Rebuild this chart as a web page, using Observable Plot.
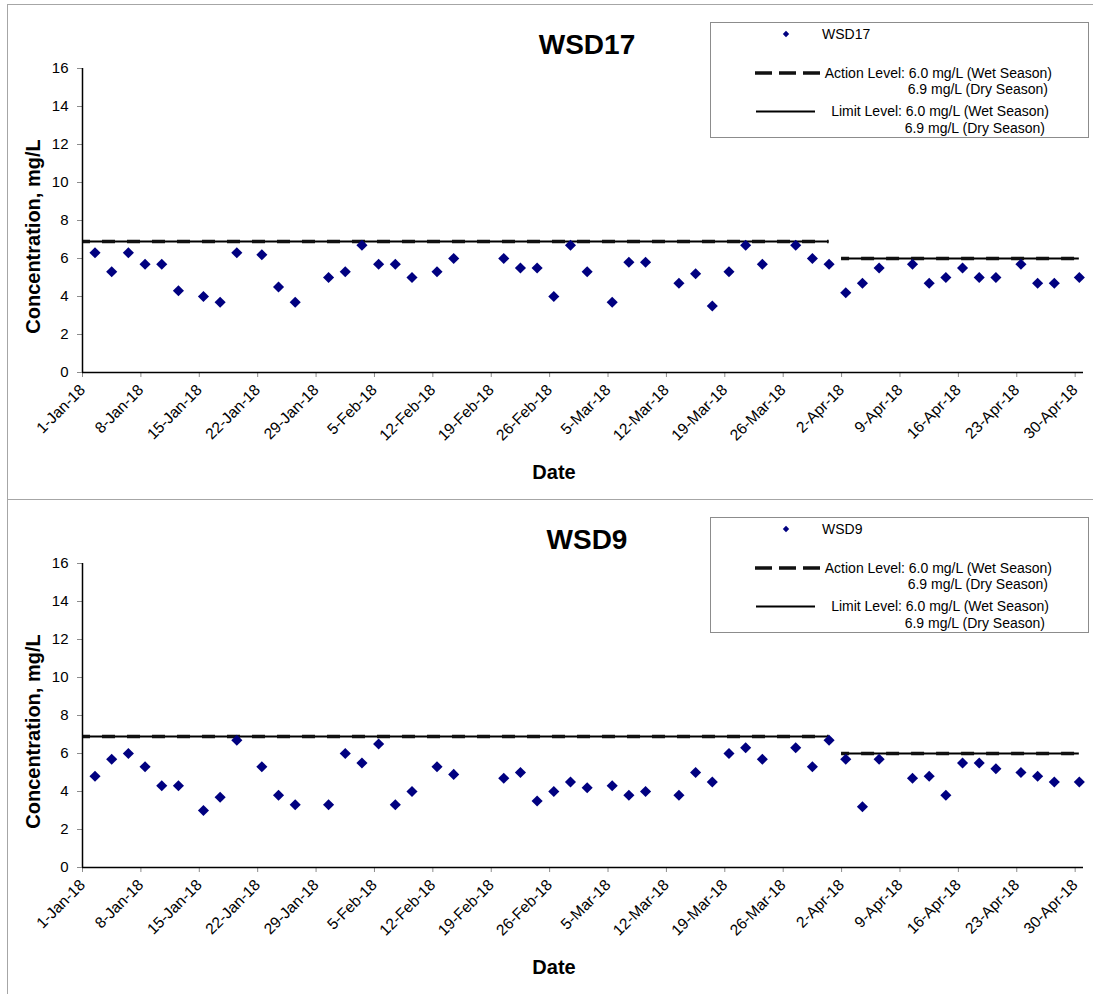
<!DOCTYPE html>
<html><head><meta charset="utf-8">
<script src="https://cdn.jsdelivr.net/npm/d3@7"></script>
<script src="https://cdn.jsdelivr.net/npm/@observablehq/plot@0.6"></script>
<style>
body{margin:0;background:#fff;font-family:"Liberation Sans",Arial,sans-serif;}
#root{position:relative;width:1093px;height:994px;overflow:hidden;}
.panel{position:absolute;left:7px;width:1086px;border-left:1px solid #a6a6a6;border-top:1px solid #a6a6a6;}
.panel svg{position:absolute;left:0;top:0;overflow:visible;}
</style></head><body><div id="root"></div>
<script>
const sampleDates = [
 "2018-01-02","2018-01-04","2018-01-06","2018-01-08","2018-01-10","2018-01-12","2018-01-15","2018-01-17","2018-01-19","2018-01-22","2018-01-24","2018-01-26","2018-01-30",
 "2018-02-01","2018-02-03","2018-02-05","2018-02-07","2018-02-09","2018-02-12","2018-02-14","2018-02-20","2018-02-22","2018-02-24","2018-02-26","2018-02-28",
 "2018-03-02","2018-03-05","2018-03-07","2018-03-09","2018-03-13","2018-03-15","2018-03-17","2018-03-19","2018-03-21","2018-03-23","2018-03-27","2018-03-29","2018-03-31",
 "2018-04-02","2018-04-04","2018-04-06","2018-04-10","2018-04-12","2018-04-14","2018-04-16","2018-04-18","2018-04-20","2018-04-23","2018-04-25","2018-04-27","2018-04-30"
];
const wsd17Values = [
 6.3,5.3,6.3,5.7,5.7,4.3,4.0,3.7,6.3,6.2,4.5,3.7,5.0,
 5.3,6.7,5.7,5.7,5.0,5.3,6.0,6.0,5.5,5.5,4.0,6.7,
 5.3,3.7,5.8,5.8,4.7,5.2,3.5,5.3,6.7,5.7,6.7,6.0,5.7,
 4.2,4.7,5.5,5.7,4.7,5.0,5.5,5.0,5.0,5.7,4.7,4.7,5.0
];
const wsd9Values = [
 4.8,5.7,6.0,5.3,4.3,4.3,3.0,3.7,6.7,5.3,3.8,3.3,3.3,
 6.0,5.5,6.5,3.3,4.0,5.3,4.9,4.7,5.0,3.5,4.0,4.5,
 4.2,4.3,3.8,4.0,3.8,5.0,4.5,6.0,6.3,5.7,6.3,5.3,6.7,
 5.7,3.2,5.7,4.7,4.8,3.8,5.5,5.5,5.2,5.0,4.8,4.5,4.5
];
const seasonStarts = ["2018-01-01","2018-04-02"];
const seasonEnds = ["2018-03-31","2018-04-30"];
const actionLevelValues = [6.9, 6.0];
const limitLevelValues = [6.9, 6.0];
const tickDates = ["2018-01-01","2018-01-08","2018-01-15","2018-01-22","2018-01-29","2018-02-05","2018-02-12","2018-02-19","2018-02-26",
 "2018-03-05","2018-03-12","2018-03-19","2018-03-26","2018-04-02","2018-04-09","2018-04-16","2018-04-23","2018-04-30"];
const yTicks = [0,2,4,6,8,10,12,14,16];
const xDomain = ["2018-01-01","2018-05-01"];
const stationNames = ["WSD17","WSD9"];
const stationValues = [wsd17Values, wsd9Values];
const legendAction = ["Action Level: 6.0 mg/L (Wet Season)", "6.9 mg/L (Dry Season)"];
const legendLimit = ["Limit Level: 6.0 mg/L (Wet Season)", "6.9 mg/L (Dry Season)"];
const panelTops = [4, 499];

const FONT = '"Liberation Sans", Arial, sans-serif';
const HALF = 12 * 3600e3;
const root = document.getElementById("root");

function levels(vals) {
  return vals.map((v, i) => ({x1: new Date(seasonStarts[i]), x2: new Date(+new Date(seasonEnds[i]) + HALF), y: v}));
}

stationNames.forEach((name, k) => {
  const data = sampleDates.map((d, i) => ({date: new Date(d), value: stationValues[k][i]}));
  const div = document.createElement("div");
  div.className = "panel";
  div.style.top = panelTops[k] + "px";
  div.style.height = (k === 0 ? 495 : 496) + "px";
  root.appendChild(div);

  const chart = Plot.plot({
    width: 1085, height: 495,
    marginLeft: 74, marginRight: 10, marginTop: 63, marginBottom: 128,
    style: {fontFamily: FONT, fontSize: "15px", color: "black", background: "transparent"},
    x: {type: "utc", domain: xDomain.map(d => new Date(d))},
    y: {domain: [0, 16]},
    marks: [
      Plot.axisY({ticks: yTicks, tickSize: 5, tickPadding: 9, stroke: "#8c8c8c", fill: "black", fontSize: 15, label: null}),
      Plot.axisX({ticks: tickDates.map(d => new Date(d)), tickFormat: d3.utcFormat("%-d-%b-%y"), tickRotate: -45,
        tickSize: 5, tickPadding: 10, stroke: "#8c8c8c", fill: "black", fontSize: 15.5, label: null}),
      Plot.ruleY(levels(limitLevelValues), {y: "y", x1: "x1", x2: "x2", stroke: "black", strokeWidth: 2}),
      Plot.ruleY(levels(actionLevelValues), {y: "y", x1: "x1", x2: "x2", stroke: "#111", strokeWidth: 3.5, strokeDasharray: "13,12", strokeDashoffset: 5}),
      Plot.ruleY([0], {stroke: "black", strokeWidth: 1.5}),
      Plot.ruleX([new Date(xDomain[0])], {stroke: "black", strokeWidth: 1.5}),
      Plot.dot(data, {x: d => new Date(+d.date + HALF), y: "value", symbol: "diamond2", r: 5, fill: "#000080", stroke: null}),
      Plot.text([name], {text: d => d, frameAnchor: "top", lineAnchor: "middle", dx: 4, dy: -23, fontSize: 28, fontWeight: "bold"}),
      Plot.text(["Concentration, mg/L"], {text: d => d, frameAnchor: "left", textAnchor: "middle", lineAnchor: "middle", rotate: -90, dx: -49, dy: 16, fontSize: 20, fontWeight: "bold"}),
      Plot.text(["Date"], {text: d => d, frameAnchor: "bottom", lineAnchor: "middle", dx: -29, dy: 100, fontSize: 20, fontWeight: "bold"})
    ]
  });
  div.appendChild(chart);

  // legend
  const svg = d3.select(chart);
  const g = svg.append("g").attr("font-family", FONT).attr("font-size", 14).attr("fill", "black").attr("text-anchor", "start");
  g.append("rect").attr("x", 702.5).attr("y", 17.5).attr("width", 378).attr("height", 115)
    .attr("fill", "white").attr("stroke", "#8c8c8c").attr("stroke-width", 1);
  g.append("path").attr("d", d3.symbol(d3.symbolDiamond2, 26)()).attr("transform", "translate(778,29)").attr("fill", "#000080");
  g.append("text").attr("x", 814).attr("y", 33.5).attr("text-anchor", "start").text(name);
  g.append("line").attr("x1", 747).attr("x2", 812).attr("y1", 68).attr("y2", 68)
    .attr("stroke", "#111").attr("stroke-width", 3.5).attr("stroke-dasharray", "17,7");
  g.append("text").attr("x", 1044).attr("y", 72.5).attr("text-anchor", "end").text(legendAction[0]);
  g.append("text").attr("x", 1040).attr("y", 89).attr("text-anchor", "end").text(legendAction[1]);
  g.append("line").attr("x1", 748).attr("x2", 807).attr("y1", 106.5).attr("y2", 106.5)
    .attr("stroke", "black").attr("stroke-width", 2);
  g.append("text").attr("x", 1041).attr("y", 111).attr("text-anchor", "end").text(legendLimit[0]);
  g.append("text").attr("x", 1037).attr("y", 128).attr("text-anchor", "end").text(legendLimit[1]);
});
</script>
</body></html>
